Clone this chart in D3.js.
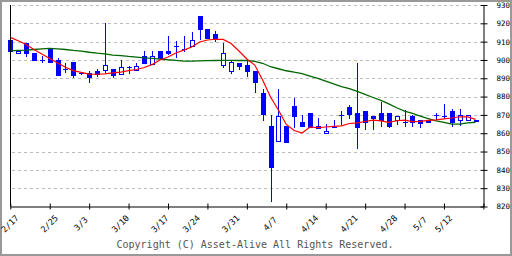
<!DOCTYPE html>
<html>
<head>
<meta charset="utf-8">
<script src="https://cdn.jsdelivr.net/npm/d3@7/dist/d3.min.js"></script>
<style>
  html, body { margin: 0; padding: 0; background: #fff; }
  svg { display: block; }
</style>
</head>
<body>
<div id="chart"></div>
<script>
// trading days shown on the chart
const days = [
  "2/17","2/18","2/19","2/20","2/21",
  "2/25","2/26","2/27","2/28",
  "3/3","3/4","3/5","3/6","3/7",
  "3/10","3/11","3/12","3/13","3/14",
  "3/17","3/18","3/19","3/21",
  "3/24","3/25","3/26","3/27","3/28",
  "3/31","4/1","4/2","4/3","4/4",
  "4/7","4/8","4/9","4/10","4/11",
  "4/14","4/15","4/16","4/17","4/18",
  "4/21","4/22","4/23","4/24","4/25",
  "4/28","4/30","5/1","5/2",
  "5/7","5/8","5/9",
  "5/12","5/13","5/14","5/15","5/16"
]
const dateLabels = ["2/17","2/25","3/3","3/10","3/17","3/24","3/31","4/7","4/14","4/21","4/28","5/7","5/12"]

const open = [910.9,903.6,909.4,904,900,906,900,895,898.7,893,893,894,894.5,894.9,892.2,896.2,894.9,902.2,897.8,904.9,
  904.9,907.8,906,907.8,924,916.9,914.2,896.9,893.6,898.2,897.2,894,881.8,864,855.9,864,874.9,866.3,871.2,864,
  860,863.6,869.8,874.2,871.2,872.1,869.6,871.2,871.2,867.2,866.3,869.4,867.2,867.2,870,869.6,872.1,867.2,866.9,867.2]
const high = [911,904.9,909.4,904,902.2,906,901,898.2,898.7,893.3,894,894.9,920,894.9,900,896.5,898.2,904.9,904.9,904.9,
  913.1,910.3,913.1,915.4,924,916.9,915.8,909.4,900,898.2,900,894,884,870,884,864,879.4,870,871.2,868.2,
  865,867.2,872.1,875.4,898.2,872.1,869.6,877.2,871.2,869.4,872.7,870,867.2,867.2,871.2,876,873.2,873,869.8,867.2]
const low = [904.5,903.1,901.8,899.6,898.5,898.5,891,892.7,890,892,887.6,890.9,892.7,890,892.2,892.5,894.1,897.8,897.8,900.7,
  902.7,900.9,904.5,907.8,910.9,911.4,910,895.8,892.3,894.7,890.9,881.8,866.8,822.6,855.9,854.8,862.7,863.6,863.2,862.1,
  860,863,864.5,868,851.2,861.8,861.8,863.6,863,864.5,863.6,863.6,863,865.8,867.2,867.8,863.6,864,866.9,866]
const close = [904.5,904.9,903.4,899.6,900,898.5,891,895,890.9,892.2,890,891.8,897.2,890.9,896,896.2,896.9,897.8,902.2,900.7,
  903.3,907.8,906,910.9,916.4,911.4,911.4,903.6,898.7,895.8,893.6,887.6,869.6,840.9,869.4,854.8,869,863.6,863.2,862.1,
  861.2,863.6,869.8,869.6,863,865.8,867.8,866.7,863.6,869.4,866.3,865.8,864.9,865.8,870,869.6,865.4,869.8,869.8,866]

// moving averages
const maShort = [912.3,910.5,908.4,905.7,903.3,900.8,898.3,896,894.2,893.2,892.3,892.2,892.4,892.9,893.4,894.2,894.8,895.9,897.5,900,
  901.6,903.8,905.4,907.1,909.8,910.9,911.3,911.2,909,904.9,900.5,897.2,889.1,879.8,872.7,864.8,861.5,860.1,863.4,863.1,
  863.4,863.7,864,865.3,865.7,866.4,867.1,866.7,865.9,866.8,867.1,866.3,866.5,867,867.3,867.8,868.3,869,868.9,867.6]
const maLong = [905,905.2,905.4,905.7,906,906.3,906.1,905.7,905.2,904.8,904.2,903.7,903.3,902.6,902.4,901.9,901.6,901.1,900.9,900.5,
  900.1,899.8,899.4,899.4,899.5,899.6,899.7,899.8,899.8,899.7,899.7,899.2,898.2,896.3,895.2,894.1,893.3,892.6,891.2,889.9,
  888.4,886.9,885.5,884.3,882.8,881.2,879.5,877.9,876,873.9,872.1,870.8,869.4,868,866.7,865.9,865,865,865.6,866]

const priceTicks = [930,920,910,900,890,880,870,860,850,840,830,820]

const width = 512
const height = 256
const blue = "#0000ff"

let svg = d3.select("#chart").append("svg")
  .attr("width", width)
  .attr("height", height)

// frame
svg.append("rect")
  .attr("x", 1).attr("y", 1)
  .attr("width", width - 2).attr("height", height - 2)
  .attr("fill", "#fff")
  .attr("stroke", "#999")
  .attr("stroke-width", 2)

// scales
let x = d3.scaleLinear().domain([0, 60]).range([10.3, 483.4])
let y = d3.scaleLinear().domain([820, 930]).range([206.5, 5])

// grid
svg.append("g")
  .selectAll("line")
  .data(priceTicks.filter(d => d > 820))
  .enter()
  .append("line")
  .attr("x1", 12).attr("x2", 480)
  .attr("y1", d => Math.round(y(d)) + 0.5)
  .attr("y2", d => Math.round(y(d)) + 0.5)
  .attr("stroke", "#bdbdbd")
  .attr("stroke-dasharray", "3,3")

// candles
let candles = svg.append("g").attr("shape-rendering", "crispEdges")
let idx = d3.range(days.length)

candles.selectAll(".wick")
  .data(idx)
  .enter()
  .append("line")
  .attr("class", "wick")
  .attr("x1", i => Math.round(x(i)) + 0.5)
  .attr("x2", i => Math.round(x(i)) + 0.5)
  .attr("y1", i => Math.round(y(high[i])))
  .attr("y2", i => Math.round(y(low[i])))
  .attr("stroke", blue)

candles.selectAll(".body")
  .data(idx)
  .enter()
  .append("rect")
  .attr("class", "body")
  .attr("x", i => Math.round(x(i)) - 2 + (close[i] > open[i] ? 0.5 : 0))
  .attr("y", i => Math.round(y(Math.max(open[i], close[i]))) + (close[i] > open[i] ? 0.5 : 0))
  .attr("width", i => close[i] > open[i] ? 4 : 5)
  .attr("height", i => Math.max(1, Math.round(Math.abs(y(open[i]) - y(close[i])))))
  .attr("fill", i => close[i] > open[i] ? "#fff" : blue)
  .attr("stroke", i => close[i] > open[i] ? blue : "none")

// moving averages
let line = d3.line().x((d, i) => x(i)).y(d => y(d))

svg.append("path")
  .datum(maLong)
  .attr("d", line)
  .attr("fill", "none")
  .attr("stroke", "#006600")
  .attr("stroke-width", 1.3)

svg.append("path")
  .datum(maShort)
  .attr("d", line)
  .attr("fill", "none")
  .attr("stroke", "#ff0000")
  .attr("stroke-width", 1.2)

// left edge line
svg.append("line")
  .attr("x1", 10.5).attr("x2", 10.5)
  .attr("y1", 5).attr("y2", 206.5)
  .attr("stroke", "#000")

// bottom axis
let xAxis = svg.append("g")
  .attr("transform", "translate(0,206.5)")
  .call(d3.axisBottom(x).tickValues(d3.range(0, 61, 5)).tickFormat("").tickSizeOuter(0))
xAxis.select(".domain").attr("stroke", "#000")
xAxis.selectAll(".tick line").attr("y1", -3).attr("y2", 3).attr("stroke", "#000")

svg.append("g")
  .selectAll("text")
  .data(dateLabels)
  .enter()
  .append("text")
  .attr("transform", d => "translate(" + x(days.indexOf(d)) + ",224) rotate(-45)")
  .attr("text-anchor", "middle")
  .attr("dominant-baseline", "middle")
  .attr("font-family", "DejaVu Sans Mono")
  .attr("font-size", 8.5)
  .attr("fill", "#000")
  .text(d => d)

// right axis
let yAxis = svg.append("g")
  .attr("transform", "translate(483.5,0)")
  .call(d3.axisRight(y).tickValues(priceTicks).tickSizeOuter(0).tickPadding(7))
yAxis.select(".domain").attr("stroke", "#000")
yAxis.selectAll(".tick line").attr("x1", -3).attr("x2", 4).attr("stroke", "#000")
yAxis.selectAll(".tick text")
  .attr("font-family", "DejaVu Sans Mono")
  .attr("font-size", 7.5)
  .attr("fill", "#000")

// footer
svg.append("text")
  .attr("x", 255)
  .attr("y", 248)
  .attr("text-anchor", "middle")
  .attr("font-family", "DejaVu Sans Mono")
  .attr("font-size", 10)
  .attr("fill", "#555")
  .text("Copyright (C) Asset-Alive All Rights Reserved.")
</script>
</body>
</html>
